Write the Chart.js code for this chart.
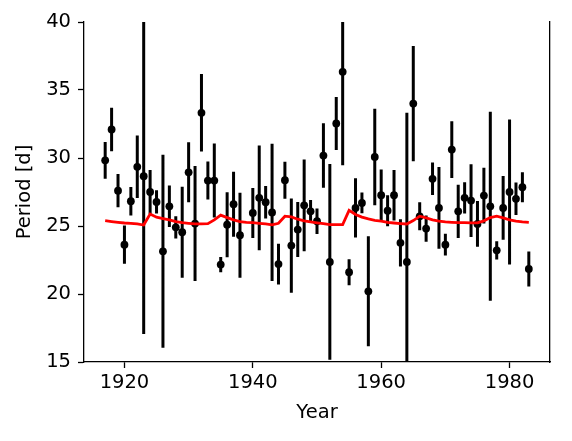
<!DOCTYPE html>
<html>
<head>
<meta charset="utf-8">
<script src="https://cdn.jsdelivr.net/npm/chart.js@4/dist/chart.umd.min.js"></script>
<style>
  body { margin: 0; background: #fff; }
  #wrap { width: 572px; height: 441px; }
</style>
</head>
<body>
<div id="wrap"><canvas id="periodChart" width="572" height="441"></canvas></div>
<script>
// years of observation
const years = [];
for (let y = 1917; y <= 1983; y++) years.push(y);

// measured period per year (null = no measurement)
const periods = [
  29.83, 32.10, 27.60, 23.63, 26.82, 29.35, 28.66, 27.50, 26.77, 23.14,
  26.45, 24.90, 24.54, 28.95, 25.18, 33.32, 28.34, 28.34, 22.16, 25.10,
  26.60, 24.32, null,  25.96, 27.07, 26.75, 26.00, 22.20, 28.37, 23.56,
  24.74, 26.52, 26.08, 25.35, 30.18, 22.36, 32.54, 36.34, 21.60, 26.33,
  26.70, 20.20, 30.08, 27.26, 26.13, 27.26, 23.76, 22.36, 34.00, 25.71,
  24.81, 28.47, 26.33, 23.63, 30.62, 26.08, 27.07, 26.87, 25.15, 27.24,
  26.45, 23.21, 26.33, 27.50, 27.00, 27.85, 21.84
];

// error (half length of bar)
const errors = [
  1.35, 1.60, 1.23, 1.41, 1.04, 2.30, 11.6, 1.62, 0.86, 7.10,
  1.52, 0.82, 3.34, 2.20, 4.23, 2.85, 1.40, 2.72, 0.56, 2.39,
  2.39, 3.13, null, 1.84, 3.85, 1.20, 5.05, 1.50, 1.36, 3.46,
  2.02, 3.37, 0.83, 0.94, 2.37, 7.20, 1.95, 6.87, 0.96, 2.18,
  0.76, 4.05, 3.55, 1.90, 1.14, 1.86, 1.74, 10.96, 4.23, 1.03,
  0.97, 1.19, 3.00, 0.80, 2.09, 1.96, 1.15, 2.67, 1.68, 2.05,
  6.95, 0.67, 2.35, 5.33, 1.20, 1.10, 1.29
];

// red model curve
const model = [
  25.40, 25.33, 25.27, 25.22, 25.20, 25.15, 25.07, 25.88, 25.65, 25.55,
  25.45, 25.32, 25.25, 25.20, 25.15, 25.15, 25.17, 25.45, 25.80, 25.62,
  25.45, 25.32, 25.27, 25.25, 25.20, 25.15, 25.08, 25.20, 25.72, 25.67,
  25.50, 25.38, 25.30, 25.23, 25.17, 25.10, 25.10, 25.10, 26.15, 25.85,
  25.65, 25.52, 25.42, 25.35, 25.27, 25.22, 25.18, 25.15, 25.40, 25.72,
  25.60, 25.45, 25.35, 25.30, 25.27, 25.25, 25.25, 25.23, 25.23, 25.38,
  25.62, 25.72, 25.60, 25.45, 25.35, 25.30, 25.27
];

const xTicks = [1920, 1940, 1960, 1980];
const yTicks = [15, 20, 25, 30, 35, 40];

const pts = [];
const bars = [];
years.forEach(function(yr, i) {
  if (periods[i] === null) return;
  pts.push({x: yr, y: periods[i]});
  bars.push({x: yr, y: periods[i] - errors[i]});
  bars.push({x: yr, y: periods[i] + errors[i]});
  bars.push({x: yr, y: null});
});
const curve = years.map(function(yr, i) { return {x: yr, y: model[i]}; });

const tickFont = {family: 'DejaVu Sans', size: 19.5};

const ctx = document.getElementById('periodChart').getContext('2d');
const chart = new Chart(ctx, {
  type: 'scatter',
  data: {
    datasets: [
      {
        type: 'line',
        data: curve,
        borderColor: '#ff0000',
        borderWidth: 2.8,
        pointRadius: 0,
        tension: 0,
        order: 0
      },
      {
        data: pts,
        backgroundColor: '#000',
        borderWidth: 0,
        pointRadius: 3.9,
        order: 1
      },
      {
        type: 'line',
        data: bars,
        borderColor: '#000',
        borderWidth: 3,
        borderCapStyle: 'butt',
        pointRadius: 0,
        spanGaps: false,
        order: 2
      }
    ]
  },
  options: {
    responsive: false,
    devicePixelRatio: 1,
    animation: false,
    layout: { padding: { left: 13, top: 22, right: 22, bottom: 16 } },
    plugins: { legend: { display: false }, tooltip: { enabled: false } },
    scales: {
      x: {
        type: 'linear',
        min: 1913.7,
        max: 1986.3,
        afterBuildTicks: function(s) { s.ticks = xTicks.map(function(v) { return {value: v}; }); },
        afterFit: function(s) { s.height = 441 - 362 - 16; },
        grid: { drawOnChartArea: false, tickLength: 6, tickWidth: 1.3, tickColor: '#000' },
        border: { color: '#000', width: 1.3 },
        ticks: { color: '#000', font: tickFont, padding: 3, maxRotation: 0,
                 callback: function(v) { return String(v); } },
        title: { display: true, text: 'Year', color: '#000', font: tickFont, padding: 0 }
      },
      y: {
        min: 15,
        max: 40,
        afterBuildTicks: function(s) { s.ticks = yTicks.map(function(v) { return {value: v}; }); },
        afterFit: function(s) { s.width = 84 - 13; },
        grid: { drawOnChartArea: false, tickLength: 6, tickWidth: 1.3, tickColor: '#000' },
        border: { color: '#000', width: 1.3 },
        ticks: { color: '#000', font: tickFont, padding: 7 },
        title: { display: true, text: 'Period [d]', color: '#000', font: tickFont, padding: 0 }
      },
      y2: {
        position: 'right',
        min: 15,
        max: 40,
        afterFit: function(s) { s.width = 0; },
        grid: { display: false },
        border: { display: true, color: '#000', width: 1.3 },
        ticks: { display: false }
      }
    }
  }
});
</script>
</body>
</html>
